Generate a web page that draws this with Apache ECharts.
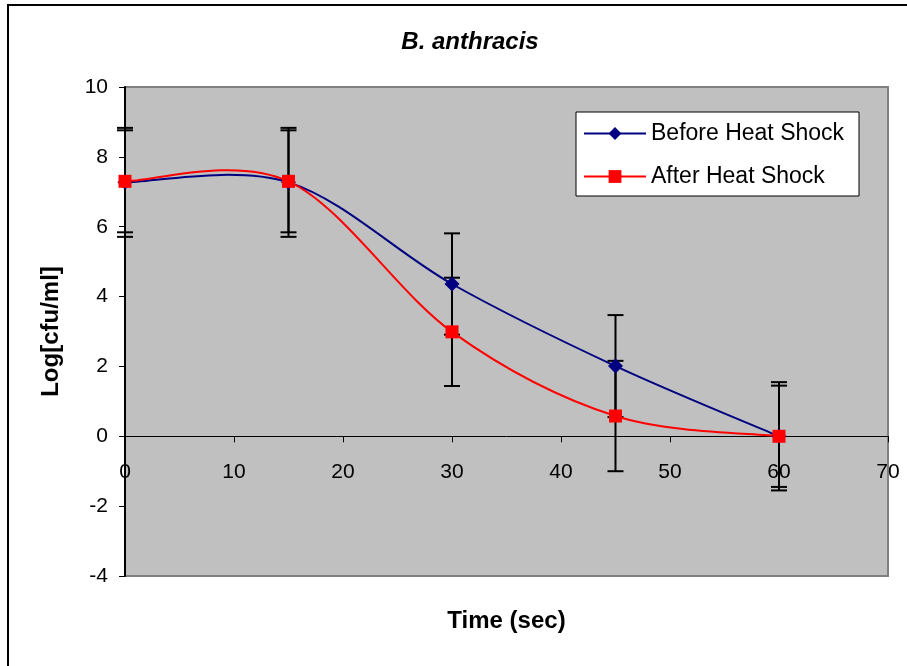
<!DOCTYPE html>
<html>
<head>
<meta charset="utf-8">
<script src="https://cdn.jsdelivr.net/npm/echarts@6/dist/echarts.min.js"></script>
<style>
  html, body { margin: 0; padding: 0; background: #fff; }
  #chart { width: 907px; height: 666px; }
</style>
</head>
<body>
<div id="chart"></div>
<script>
// time points (sec)
const times = [0, 15, 30, 45, 60];
// log cfu/ml
const beforeVals = [7.27, 7.27, 4.36, 2.01, 0];
const afterVals = [7.3, 7.3, 2.99, 0.58, 0];
// +/- error
const beforeErr = [1.56, 1.56, 1.45, 1.46, 1.55];
const afterErr = [1.46, 1.46, 1.55, 1.58, 1.45];
const xTicks = [0, 10, 20, 30, 40, 50, 60, 70];
const yTicks = [-4, -2, 0, 2, 4, 6, 8, 10];

const chart = echarts.init(document.getElementById("chart"));

function pairs(vals) {
  return times.map((t, i) => [t, vals[i]]);
}
function errData(vals, errs) {
  return times.map((t, i) => [t, vals[i], errs[i]]);
}

// error bar: vertical line with caps
function renderErr(params, api) {
  const x = api.value(0);
  const y = api.value(1);
  const e = api.value(2);
  const top = api.coord([x, y + e]);
  const bot = api.coord([x, y - e]);
  const w = 8;
  const st = { stroke: "#000", lineWidth: 2 };
  return {
    type: "group",
    children: [
      { type: "line", shape: { x1: top[0], y1: top[1], x2: bot[0], y2: bot[1] }, style: st },
      { type: "line", shape: { x1: top[0] - w, y1: top[1], x2: top[0] + w, y2: top[1] }, style: st },
      { type: "line", shape: { x1: bot[0] - w, y1: bot[1], x2: bot[0] + w, y2: bot[1] }, style: st },
    ],
  };
}

// smoothed segment like the spreadsheet curve (cardinal spline, 1/6 tangents)
function curveRenderer(vals, color) {
  return function (params, api) {
    const i = params.dataIndex;
    if (i >= times.length - 1) return null;
    const p = (k) => {
      k = Math.max(0, Math.min(times.length - 1, k));
      return api.coord([times[k], vals[k]]);
    };
    const p0 = p(i - 1), p1 = p(i), p2 = p(i + 1), p3 = p(i + 2);
    return {
      type: "bezierCurve",
      shape: {
        x1: p1[0], y1: p1[1],
        x2: p2[0], y2: p2[1],
        cpx1: p1[0] + (p2[0] - p0[0]) / 6,
        cpy1: p1[1] + (p2[1] - p0[1]) / 6,
        cpx2: p2[0] - (p3[0] - p1[0]) / 6,
        cpy2: p2[1] - (p3[1] - p1[1]) / 6,
      },
      style: { stroke: color, lineWidth: 2, fill: null },
    };
  };
}

const font = "Liberation Sans, Arial, sans-serif";

let option = {
  animation: false,
  backgroundColor: "#fff",
  title: {
    text: "B. anthracis",
    left: 465,
    top: 25,
    textAlign: "center",
    textStyle: {
      fontFamily: font,
      fontSize: 24,
      fontWeight: "bold",
      fontStyle: "italic",
      color: "#000",
    },
  },
  graphic: [
    {
      type: "rect",
      z: 100,
      silent: true,
      shape: { x: 8, y: 5, width: 1000, height: 1000 },
      style: { fill: "none", stroke: "#000", lineWidth: 2 },
    },
    {
      type: "rect",
      z: 10,
      shape: { x: 576, y: 112, width: 283, height: 84 },
      style: { fill: "#fff", stroke: "#000", lineWidth: 1 },
    },
  ],
  legend: {
    z: 20,
    orient: "vertical",
    left: 583,
    top: 122,
    padding: 0,
    itemGap: 20,
    itemWidth: 62,
    itemHeight: 16,
    textStyle: { fontFamily: font, fontSize: 23, color: "#000", lineHeight: 22 },
    data: [
      { name: "Before Heat Shock", lineStyle: { color: "#000080", width: 2, opacity: 1 } },
      { name: "After Heat Shock", lineStyle: { color: "#FF0000", width: 2, opacity: 1 } },
    ],
  },
  grid: {
    left: 125,
    top: 87,
    right: 19,
    bottom: 90,
    outerBoundsMode: "none",
    containLabel: false,
    show: true,
    backgroundColor: "#C0C0C0",
    borderColor: "#808080",
    borderWidth: 2,
  },
  xAxis: {
    type: "value",
    min: xTicks[0],
    max: xTicks[xTicks.length - 1],
    interval: 10,
    name: "Time (sec)",
    nameLocation: "middle",
    nameGap: 33,
    nameTextStyle: { fontFamily: font, fontSize: 24, fontWeight: "bold", color: "#000" },
    axisLine: { onZero: true, lineStyle: { color: "#000", width: 1 } },
    axisTick: { length: 6, lineStyle: { color: "#000" } },
    axisLabel: { margin: -114, fontFamily: font, fontSize: 21, color: "#000" },
    splitLine: { show: false },
  },
  yAxis: {
    type: "value",
    min: yTicks[0],
    max: yTicks[yTicks.length - 1],
    interval: 2,
    name: "Log[cfu/ml]",
    nameLocation: "middle",
    nameGap: 62,
    nameTextStyle: { fontFamily: font, fontSize: 24, fontWeight: "bold", color: "#000" },
    axisLine: { show: true, onZero: false, lineStyle: { color: "#000", width: 2 } },
    axisTick: { show: true, length: 6, lineStyle: { color: "#000" } },
    axisLabel: { margin: 17, fontFamily: font, fontSize: 21, color: "#000" },
    splitLine: { show: false },
  },
  series: [
    {
      type: "custom",
      name: "errBefore",
      renderItem: renderErr,
      data: errData(beforeVals, beforeErr),
      z: 1,
      silent: true,
    },
    {
      type: "custom",
      name: "errAfter",
      renderItem: renderErr,
      data: errData(afterVals, afterErr),
      z: 1,
      silent: true,
    },
    {
      type: "custom",
      name: "curveBefore",
      renderItem: curveRenderer(beforeVals, "#000080"),
      data: pairs(beforeVals),
      z: 2,
      silent: true,
    },
    {
      type: "custom",
      name: "curveAfter",
      renderItem: curveRenderer(afterVals, "#FF0000"),
      data: pairs(afterVals),
      z: 2,
      silent: true,
    },
    {
      name: "Before Heat Shock",
      type: "line",
      data: pairs(beforeVals),
      symbol: "diamond",
      symbolSize: 15,
      z: 3,
      lineStyle: { color: "#000080", width: 2, opacity: 0 },
      itemStyle: { color: "#000080" },
    },
    {
      name: "After Heat Shock",
      type: "line",
      data: pairs(afterVals),
      symbol: "rect",
      symbolSize: 13,
      z: 4,
      lineStyle: { color: "#FF0000", width: 2, opacity: 0 },
      itemStyle: { color: "#FF0000" },
    },
  ],
};

chart.setOption(option);
</script>
</body>
</html>
